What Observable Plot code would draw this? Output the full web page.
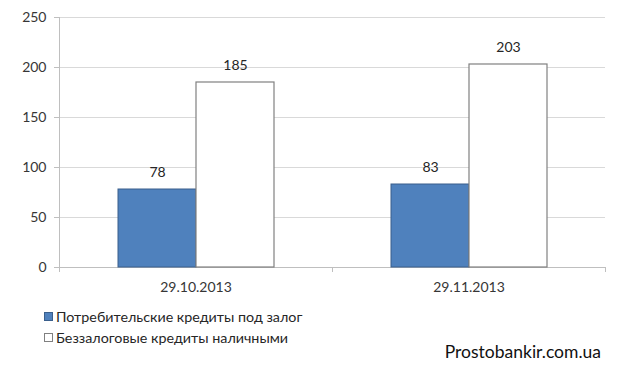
<!DOCTYPE html>
<html>
<head>
<meta charset="utf-8">
<script src="https://cdn.jsdelivr.net/npm/d3@7"></script>
<script src="https://cdn.jsdelivr.net/npm/@observablehq/plot@0.6"></script>
<style>
  body { margin: 0; background: #fff; width: 640px; height: 373px; position: relative; overflow: hidden; font-family: Lato, "Open Sans", sans-serif; }
  #legend { position: absolute; left: 44px; top: 306px; font-size: 14.3px; color: #262626; line-height: 21px; }
  .item { display: flex; align-items: center; }
  .sw { width: 7px; height: 7px; margin-right: 3px; box-sizing: content-box; }
  #wm { position: absolute; right: 39px; top: 341px; font-size: 17.5px; color: #111; }
</style>
</head>
<body>
<div id="chart"></div>
<div id="legend"></div>
<div id="wm">Prostobankir.com.ua</div>
<script>
const dates = ["29.10.2013", "29.11.2013"];
const seriesNames = ["Потребительские кредиты под залог", "Беззалоговые кредиты наличными"];
const pledged = [78, 83];
const unsecured = [185, 203];
const yTicks = [0, 50, 100, 150, 200, 250];
const fills = ["#4f81bd", "#ffffff"];
const strokes = ["#3a5f8c", "#808080"];
const watermark = "Prostobankir.com.ua";

const data = dates.flatMap((d, i) => [
  {date: d, series: seriesNames[0], value: pledged[i]},
  {date: d, series: seriesNames[1], value: unsecured[i]}
]);

const plot = Plot.plot({
  width: 640,
  height: 300,
  marginLeft: 58,
  marginRight: 35,
  marginTop: 17,
  marginBottom: 33,
  style: {fontFamily: "Lato, 'Open Sans', sans-serif", fontSize: "14px", color: "#363636", background: "#fff"},
  fx: {domain: dates, padding: 0, label: null, tickSize: 0, tickPadding: 15},
  x: {domain: seriesNames, paddingInner: 0, paddingOuter: 0.745, axis: null},
  y: {domain: [0, 250], ticks: yTicks, label: null, tickSize: 0, tickPadding: 13},
  marks: [
    Plot.gridY(yTicks.filter(t => t > 0), {stroke: "#d9d9d9", strokeOpacity: 1}),
    Plot.ruleY([0], {stroke: "#bfbfbf"}),
    Plot.barY(data.filter(d => d.series === seriesNames[0]), {fx: "date", x: "series", y: "value", fill: fills[0], stroke: strokes[0], strokeWidth: 1}),
    Plot.barY(data.filter(d => d.series === seriesNames[1]), {fx: "date", x: "series", y: "value", fill: fills[1], stroke: strokes[1], strokeWidth: 1.2}),
    Plot.text(data, {fx: "date", x: "series", y: "value", text: d => String(d.value), dy: -17, fill: "#262626", fontSize: 14})
  ]
});
document.getElementById("chart").appendChild(plot);

// axis lines and tick marks in Excel style, positioned via the plot's own scales
const ys = plot.scale("y");
const fxs = plot.scale("fx");
const svg = d3.select(plot);
const y0 = ys.apply(0), yTop = ys.apply(250);
const xLeft = fxs.apply(dates[0]);
const g = svg.append("g").attr("stroke", "#bfbfbf").attr("stroke-width", 1);
g.append("line").attr("x1", xLeft + 0.5).attr("x2", xLeft + 0.5).attr("y1", yTop).attr("y2", y0);
yTicks.forEach(t => {
  g.append("line").attr("x1", xLeft - 5).attr("x2", xLeft + 0.5).attr("y1", ys.apply(t) + 0.5).attr("y2", ys.apply(t) + 0.5);
});
const bounds = [xLeft].concat(dates.map(d => fxs.apply(d) + fxs.bandwidth));
bounds.forEach(x => {
  g.append("line").attr("x1", x + 0.5).attr("x2", x + 0.5).attr("y1", y0).attr("y2", y0 + 5);
});

// legend
const legend = document.getElementById("legend");
seriesNames.forEach((name, i) => {
  const item = document.createElement("div");
  item.className = "item";
  const sw = document.createElement("span");
  sw.className = "sw";
  sw.style.background = fills[i];
  sw.style.border = "1px solid " + strokes[i];
  item.appendChild(sw);
  const t = document.createElement("span");
  t.textContent = name;
  item.appendChild(t);
  legend.appendChild(item);
});
document.getElementById("wm").textContent = watermark;
</script>
</body>
</html>
